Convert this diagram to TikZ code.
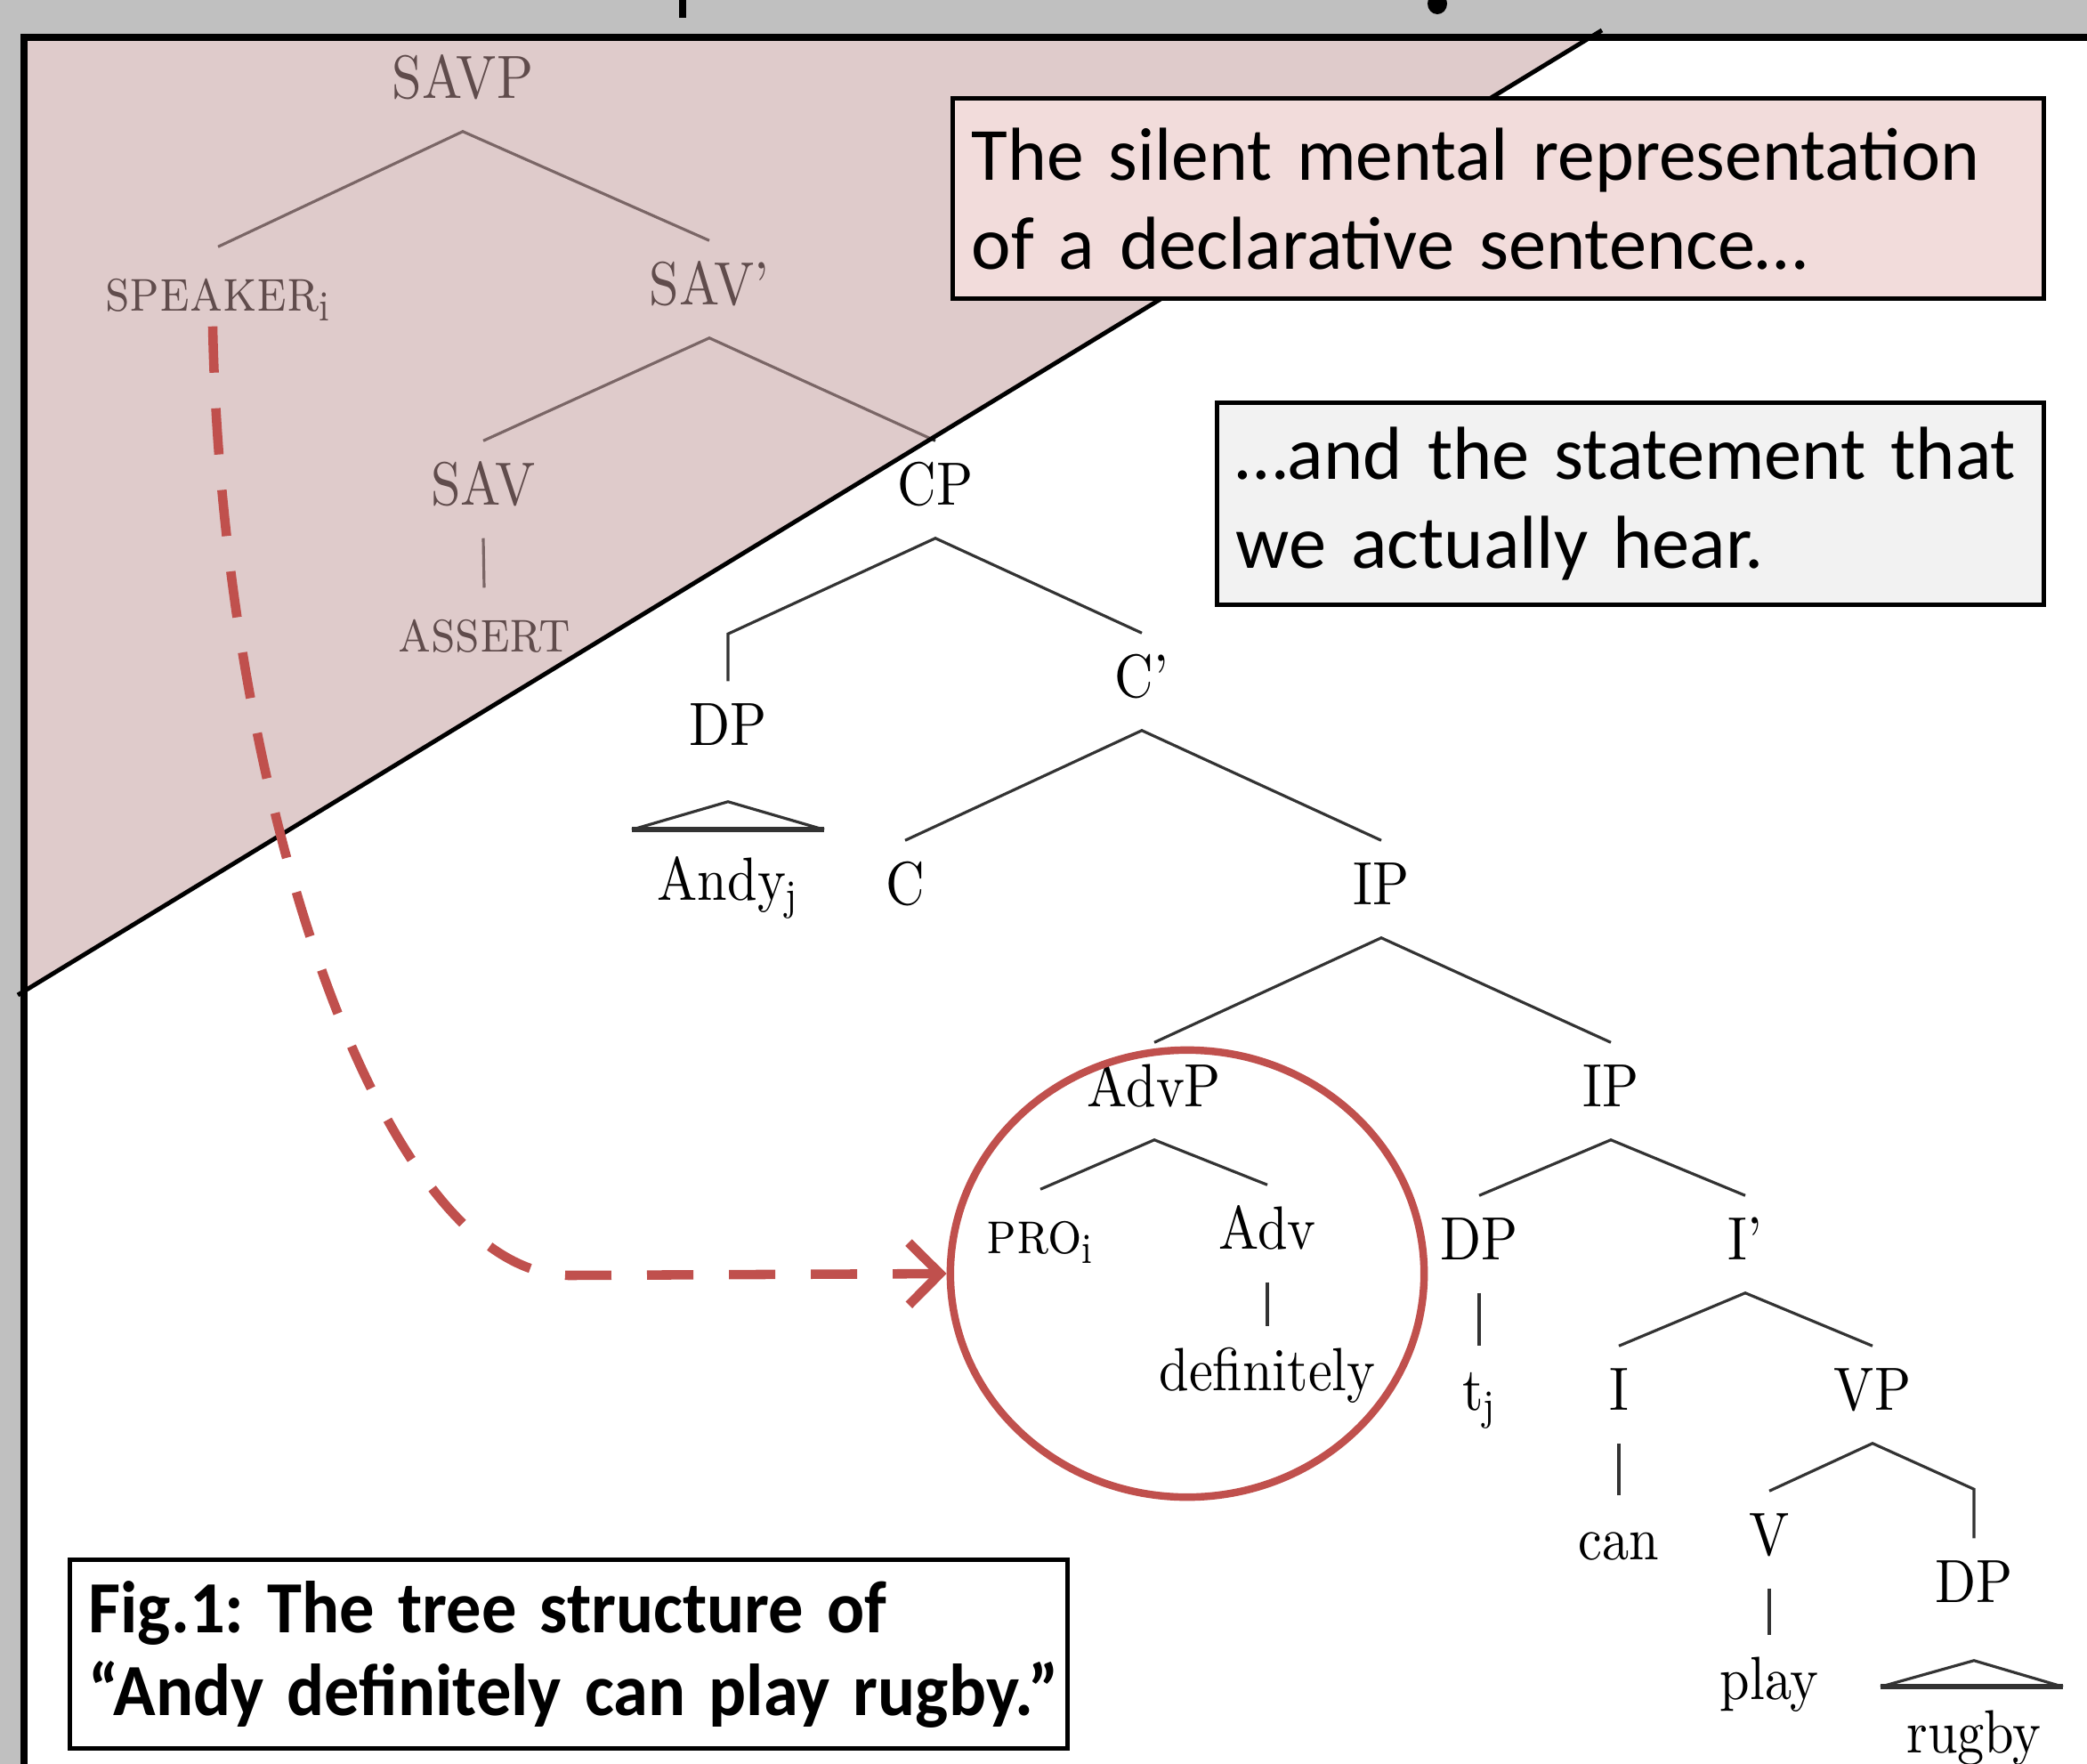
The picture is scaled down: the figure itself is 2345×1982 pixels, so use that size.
\documentclass[tikz,border=0pt]{standalone}
\usepackage{fontspec}
\newfontfamily\calibri{Carlito}
\newfontfamily\treefont{lmroman10-regular.otf}[SmallCapsFont=lmromancaps10-regular.otf]
\usetikzlibrary{shapes.geometric,arrows.meta,calc}
\definecolor{bggray}{HTML}{C0C0C0}
\definecolor{pinkov}{HTML}{C19999}
\definecolor{boxpink}{HTML}{F2DCDB}
\definecolor{boxgray}{HTML}{F2F2F2}
\definecolor{redacc}{HTML}{C0504D}
\definecolor{treeline}{HTML}{333333}
\newcommand{\tx}[1]{\scalebox{0.88}[1]{#1}}
\newcommand{\bx}[1]{\scalebox{0.95}[1]{#1}}
\frenchspacing
\begin{document}
\begin{tikzpicture}[x=0.01cm,y=-0.01cm,
  tn/.style={inner sep=0pt, minimum height=1.08cm, text height=14pt, text depth=4pt,
    font=\treefont\fontsize{19.5}{24}\selectfont},
  br/.style={draw=treeline, line width=0.9pt},
  brb/.style={draw=treeline, line width=1.6pt},
  txtbox/.style={draw=black, line width=1.5pt, anchor=north west, inner xsep=0.21cm,
    inner ysep=0pt, align=left, font=\calibri\fontsize{24}{28.5}\selectfont},
]
\useasboundingbox (0,0) rectangle (2345,1982);
% background
\fill[bggray] (0,0) rectangle (2345,1982);
\fill[white] (27,42) rectangle (2400,2050);
% title fragments cut off at the top
\fill[black] (763,0) rectangle (771,20);
\fill[black] (1615,4) ellipse (11 and 12);

% ---------------- tree ----------------
\node[tn] (savp) at (520,93) {\tx{SAVP}};
\node[tn] (spk) at (245,332) {\tx{\textsc{speaker}\textsubscript{i}}};
\node[tn] (savb) at (797,325) {\tx{SAV’}};
\node[tn] (sav) at (543,550) {\tx{SAV}};
\node[tn] (assert) at (544,715) {\tx{\textsc{assert}}};
\node[tn] (cp) at (1051,550) {\tx{CP}};
\node[tn] (dpa) at (818,820) {\tx{DP}};
\node[tn] (cbar) at (1283,766) {\tx{C’}};
\node[tn] (andy) at (818,994) {\tx{Andy\textsubscript{j}}};
\node[tn] (c) at (1017,999) {\tx{C}};
\node[tn] (ipa) at (1552,999) {\tx{IP}};
\node[tn] (advp) at (1297,1226) {\tx{AdvP}};
\node[tn] (ipb) at (1810,1226) {\tx{IP}};
\node[tn] (pro) at (1169,1391) {\tx{\textsc{pro}\textsubscript{i}}};
\node[tn] (adv) at (1424,1386) {\tx{Adv}};
\node[tn] (defin) at (1424,1545) {\tx{definitely}};
\node[tn] (dpb) at (1662,1398) {\tx{DP}};
\node[tn] (ibar) at (1961,1398) {\tx{I’}};
\node[tn] (tj) at (1662,1567) {\tx{t\textsubscript{j}}};
\node[tn] (i) at (1819,1567) {\tx{I}};
\node[tn] (vp) at (2104,1567) {\tx{VP}};
\node[tn] (can) at (1819,1735) {\tx{can}};
\node[tn] (v) at (1988,1730) {\tx{V}};
\node[tn] (dpc) at (2218,1783) {\tx{DP}};
\node[tn] (play) at (1988,1892) {\tx{play}};
\node[tn] (rugby) at (2218,1952) {\tx{rugby}};

\draw[br] (spk.north) -- (savp.south) -- (savb.north);
\draw[br] (sav.north) -- (savb.south) -- (cp.north);
\draw[br] (sav.south) -- (assert.north);
\draw[br] (dpa.north) -- ([yshift=0.53cm]dpa.north) -- (cp.south) -- (cbar.north);
\draw[br] (c.north) -- (cbar.south) -- (ipa.north);
\draw[br] (advp.north) -- (ipa.south) -- (ipb.north);
\draw[br] (pro.north) -- (advp.south) -- (adv.north);
\draw[br] (adv.south) -- (defin.north);
\draw[br] (dpb.north) -- (ipb.south) -- (ibar.north);
\draw[br] (dpb.south) -- (tj.north);
\draw[br] (i.north) -- (ibar.south) -- (vp.north);
\draw[br] (i.south) -- (can.north);
\draw[br] (v.north) -- (vp.south) -- ([yshift=0.55cm]dpc.north) -- (dpc.north);
\draw[br] (v.south) -- (play.north);
% roof triangles
\coordinate (ta) at ([yshift=-0.26cm]dpa.south);
\coordinate (tal) at ([xshift=-1.08cm,yshift=0.07cm]andy.north);
\coordinate (tar) at ([xshift=1.08cm,yshift=0.07cm]andy.north);
\draw[br] (tal) -- (ta) -- (tar);
\draw[brb] (tal) -- (tar);
\coordinate (tc) at ([yshift=-0.28cm]dpc.south);
\coordinate (tcl) at ([xshift=-1.05cm,yshift=0.02cm]rugby.north);
\coordinate (tcr) at ([xshift=1.0cm,yshift=0.02cm]rugby.north);
\draw[br] (tcl) -- (tc) -- (tcr);
\draw[brb] (tcl) -- (tcr);

% ---------------- pink overlay ----------------
\fill[pinkov, opacity=0.5] (27,42) -- (1787,42) -- (27,1114) -- cycle;
\draw[line width=1.4pt] (1800,34) -- (20,1118);
% frame
\draw[line width=2.3pt] (27,2050) -- (27,42) -- (2400,42);

% ---------------- boxes ----------------
\node[txtbox, fill=boxpink, minimum width=12.25cm, minimum height=2.25cm, text width=11.83cm]
  (b1) at (1068,108) {\scalebox{0.99}[1]{The silent mental representation}\\of a declarative sentence…};
\node[txtbox, fill=boxgray, minimum width=9.28cm, minimum height=2.27cm, text width=8.86cm]
  (b2) at (1365,450) {…and the statement that\\we actually hear.};
\node[txtbox, fill=white, minimum width=11.2cm, minimum height=2.12cm, text width=10.78cm,
  font=\calibri\bfseries\fontsize{23.5}{26.5}\selectfont]
  (b3) at (76,1750) {\bx{Fig.1: The tree structure of}\\\bx{“Andy definitely can play rugby.”}};

% ---------------- red highlight ----------------
\node[draw=redacc, line width=2.4pt, ellipse, minimum width=5.32cm, minimum height=5.02cm,
  inner sep=0pt] (circ) at (1334,1431) {};
\draw[redacc, line width=3pt, dash pattern=on 0.52cm off 0.4cm,
  -{Straight Barb[length=0.35cm,width=0.7cm]}]
  ([xshift=-0.06cm,yshift=0.2cm]spk.south) .. controls (250,900) and (430,1433) .. (640,1433)
  -- (circ.west);
\end{tikzpicture}
\end{document}
